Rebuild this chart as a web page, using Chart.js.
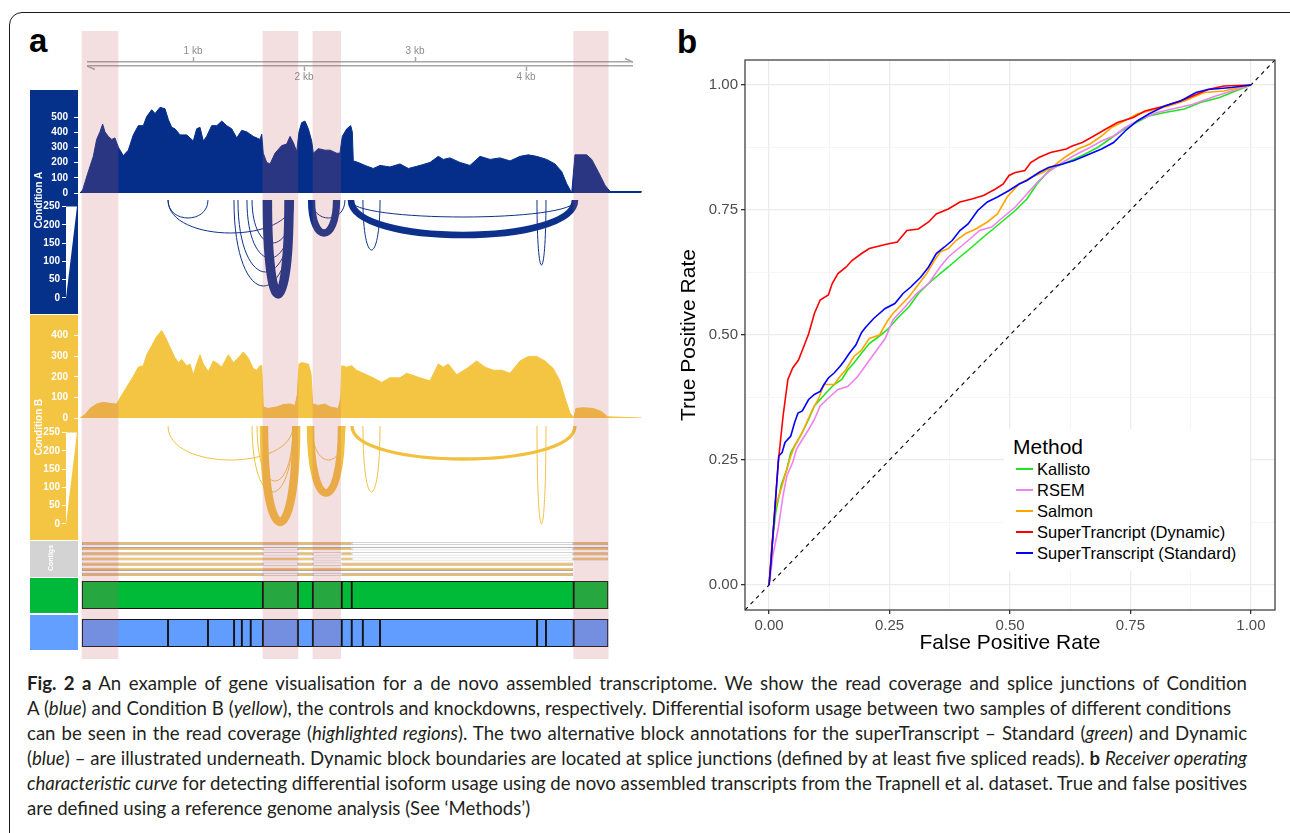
<!DOCTYPE html>
<html>
<head>
<meta charset="utf-8">
<title>Fig. 2</title>
<script src="https://cdn.jsdelivr.net/npm/chart.js@4.4.1/dist/chart.umd.min.js"></script>
<style>
  html, body { margin: 0; padding: 0; background: #fff; }
  body { width: 1290px; height: 833px; position: relative; overflow: hidden; font-family: "Liberation Sans", Arial, sans-serif; }
  canvas { position: absolute; }
  .frame { position: absolute; left: 9px; top: 12px; width: 1300px; height: 900px; border: 1.6px solid #1b1b1b; border-radius: 13px 13px 0 0; box-sizing: border-box; }
  .letter { position: absolute; font-weight: bold; font-size: 33px; line-height: 1; color: #000; }
  .box { position: absolute; left: 30px; width: 48px; }
  .vtxt { position: absolute; color: #fff; font-weight: bold; white-space: nowrap; transform: translate(-50%, -50%) rotate(-90deg); }
  #legend { position: absolute; left: 1004px; top: 429px; width: 246px; height: 142px; background: #fff; z-index: 5; }
  #legend .ttl { position: absolute; left: 9px; top: 5px; font-size: 21px; line-height: 26px; color: #000; }
  #legend .item { position: absolute; left: 0; height: 20px; line-height: 20px; font-size: 16.5px; color: #000; white-space: nowrap; }
  #legend .key { position: absolute; left: 12px; top: 9px; width: 17px; height: 2px; }
  #legend .txt { position: absolute; left: 33px; top: 0; }
  .caption { position: absolute; left: 27px; top: 671px; font-family: Lato, "Open Sans", sans-serif; font-size: 18.6px; line-height: 25px; color: #231f20; }
  .caption .ln { height: 25px; white-space: nowrap; }
  .caption .ln span.w { display: inline-block; white-space: nowrap; }
</style>
</head>
<body>
<div class="frame"></div>
<div class="letter" style="left:29px; top:24px;">a</div>
<div class="letter" style="left:677px; top:25px;">b</div>

<!-- track label columns -->
<div class="box" style="top:90px; height:224px; background:#06318b;"></div>
<div class="box" style="top:315px; height:225px; background:#f4c542;"></div>
<div class="box" style="top:541px; height:36px; background:#d3d3d3;"></div>
<div class="box" style="top:578px; height:35px; background:#00b93a;"></div>
<div class="box" style="top:615px; height:35px; background:#629fff;"></div>

<canvas id="scaleBar"></canvas>
<canvas id="covA"></canvas>
<canvas id="juncA"></canvas>
<canvas id="covB"></canvas>
<canvas id="juncB"></canvas>
<canvas id="contigs"></canvas>
<canvas id="blocksStd"></canvas>
<canvas id="blocksDyn"></canvas>
<canvas id="highlights"></canvas>
<canvas id="roc"></canvas>

<div class="vtxt" style="left:37.5px; top:200px; font-size:10px; z-index:6;">Condition A</div>
<div class="vtxt" style="left:37.5px; top:427px; font-size:10px; z-index:6;">Condition B</div>
<div class="vtxt" style="left:50px; top:558px; font-size:7px; z-index:6;">Contigs</div>

<div id="legend"><div class="ttl">Method</div></div>

<div class="caption">
  <div class="ln"><span class="w" data-w="1220"><b>Fig. 2 a</b> An example of gene visualisation for a de novo assembled transcriptome. We show the read coverage and splice junctions of Condition</span></div>
  <div class="ln"><span class="w" data-w="1204">A (<i>blue</i>) and Condition B (<i>yellow</i>), the controls and knockdowns, respectively. Differential isoform usage between two samples of different conditions</span></div>
  <div class="ln"><span class="w" data-w="1220">can be seen in the read coverage (<i>highlighted regions</i>). The two alternative block annotations for the superTranscript – Standard (<i>green</i>) and Dynamic</span></div>
  <div class="ln"><span class="w" data-w="1220">(<i>blue</i>) – are illustrated underneath. Dynamic block boundaries are located at splice junctions (defined by at least five spliced reads). <b>b</b> <i>Receiver operating</i></span></div>
  <div class="ln"><span class="w" data-w="1220"><i>characteristic curve</i> for detecting differential isoform usage using de novo assembled transcripts from the Trapnell et al. dataset. True and false positives</span></div>
  <div class="ln"><span class="w">are defined using a reference genome analysis (See ‘Methods’)</span></div>
</div>

<script>
// ---------- panel b : ROC data (false positive rate, true positive rate) ----------
const rocKallisto = [[0,0],[0.006,0.079],[0.014,0.146],[0.025,0.199],[0.037,0.232],[0.045,0.265],[0.057,0.285],[0.069,0.305],[0.082,0.331],[0.094,0.358],[0.106,0.371],[0.118,0.384],[0.135,0.401],[0.151,0.411],[0.163,0.430],[0.176,0.444],[0.192,0.464],[0.208,0.483],[0.225,0.495],[0.245,0.510],[0.266,0.533],[0.290,0.556],[0.310,0.583],[0.331,0.603],[0.355,0.623],[0.372,0.636],[0.396,0.656],[0.421,0.676],[0.445,0.696],[0.470,0.716],[0.486,0.729],[0.511,0.749],[0.535,0.772],[0.556,0.802],[0.584,0.832],[0.617,0.845],[0.650,0.859],[0.682,0.875],[0.707,0.892],[0.731,0.908],[0.756,0.922],[0.788,0.938],[0.821,0.945],[0.862,0.952],[0.895,0.965],[0.935,0.975],[0.968,0.988],[1,1]];
const rocRsem = [[0,0],[0.008,0.060],[0.019,0.113],[0.029,0.179],[0.037,0.219],[0.049,0.245],[0.057,0.272],[0.069,0.291],[0.082,0.311],[0.094,0.331],[0.106,0.358],[0.123,0.374],[0.143,0.391],[0.163,0.397],[0.184,0.417],[0.204,0.444],[0.225,0.472],[0.241,0.493],[0.257,0.530],[0.282,0.556],[0.306,0.583],[0.331,0.603],[0.355,0.636],[0.372,0.656],[0.388,0.669],[0.413,0.689],[0.437,0.709],[0.462,0.716],[0.486,0.736],[0.511,0.756],[0.535,0.782],[0.560,0.809],[0.584,0.829],[0.609,0.845],[0.633,0.859],[0.666,0.875],[0.690,0.888],[0.715,0.898],[0.739,0.915],[0.772,0.932],[0.805,0.945],[0.837,0.952],[0.878,0.961],[0.927,0.978],[1,1]];
const rocSalmon = [[0,0],[0.006,0.086],[0.014,0.159],[0.025,0.192],[0.033,0.219],[0.045,0.258],[0.053,0.278],[0.065,0.298],[0.078,0.325],[0.090,0.351],[0.102,0.371],[0.114,0.401],[0.135,0.401],[0.147,0.417],[0.159,0.430],[0.176,0.457],[0.192,0.470],[0.208,0.493],[0.229,0.500],[0.245,0.527],[0.257,0.543],[0.274,0.560],[0.290,0.576],[0.306,0.596],[0.327,0.623],[0.343,0.649],[0.355,0.666],[0.372,0.673],[0.388,0.689],[0.408,0.703],[0.429,0.712],[0.453,0.726],[0.474,0.742],[0.494,0.776],[0.519,0.802],[0.543,0.815],[0.568,0.825],[0.592,0.839],[0.613,0.855],[0.641,0.872],[0.666,0.882],[0.690,0.898],[0.711,0.915],[0.731,0.925],[0.764,0.942],[0.788,0.948],[0.829,0.958],[0.862,0.968],[0.903,0.985],[0.944,0.988],[1,1]];
const rocDynamic = [[0,0],[0.008,0.099],[0.019,0.245],[0.029,0.338],[0.039,0.411],[0.049,0.434],[0.061,0.450],[0.072,0.477],[0.082,0.502],[0.094,0.543],[0.106,0.570],[0.123,0.580],[0.131,0.603],[0.143,0.623],[0.160,0.636],[0.172,0.649],[0.192,0.663],[0.208,0.673],[0.241,0.681],[0.266,0.686],[0.286,0.709],[0.310,0.712],[0.331,0.726],[0.347,0.742],[0.372,0.752],[0.396,0.766],[0.421,0.772],[0.445,0.779],[0.470,0.792],[0.486,0.802],[0.498,0.819],[0.511,0.825],[0.531,0.829],[0.543,0.845],[0.560,0.855],[0.584,0.865],[0.617,0.872],[0.629,0.878],[0.650,0.885],[0.674,0.898],[0.699,0.912],[0.723,0.925],[0.756,0.935],[0.780,0.948],[0.821,0.958],[0.862,0.971],[0.911,0.991],[0.944,0.998],[1,1]];
const rocStandard = [[0,0],[0.004,0.046],[0.014,0.179],[0.020,0.258],[0.027,0.265],[0.033,0.285],[0.045,0.298],[0.053,0.325],[0.060,0.344],[0.069,0.348],[0.082,0.371],[0.094,0.381],[0.106,0.387],[0.114,0.401],[0.123,0.414],[0.135,0.424],[0.147,0.437],[0.155,0.447],[0.167,0.464],[0.180,0.480],[0.192,0.505],[0.200,0.515],[0.217,0.533],[0.241,0.553],[0.261,0.563],[0.278,0.583],[0.294,0.596],[0.315,0.616],[0.331,0.636],[0.347,0.663],[0.364,0.676],[0.380,0.689],[0.396,0.709],[0.413,0.722],[0.433,0.749],[0.453,0.766],[0.474,0.776],[0.498,0.789],[0.519,0.802],[0.535,0.809],[0.560,0.825],[0.580,0.835],[0.609,0.842],[0.633,0.849],[0.658,0.859],[0.690,0.872],[0.715,0.885],[0.739,0.908],[0.764,0.928],[0.788,0.942],[0.821,0.958],[0.854,0.968],[0.886,0.985],[0.911,0.991],[0.960,0.995],[1,1]];
const methodNames = ['Kallisto', 'RSEM', 'Salmon', 'SuperTrancript (Dynamic)', 'SuperTranscript (Standard)'];
const methodColors = ['#1ee61e', '#ee82ee', '#ffa500', '#ff0000', '#0000ff'];
const rocTicks = [0, 0.25, 0.5, 0.75, 1];
const rocMinorTicks = [0.125, 0.375, 0.625, 0.875];
const rocLimits = [-0.05, 1.05];
const chanceLine = [[-0.05, -0.05], [1.05, 1.05]];

// ---------- panel a : genomic tracks (positions in bp) ----------
const kbTicksTop = [1000, 3000];
const kbTicksBottom = [2000, 4000];

const covPosA = [-18,6,48,102,132,162,186,207,237,268,297,327,372,417,462,507,552,583,628,658,703,748,778,808,838,883,943,1003,1033,1063,1093,1123,1168,1214,1259,1304,1349,1394,1439,1484,1543,1604,1619,1633,1664,1694,1739,1799,1844,1874,1904,1934,1955,1979,2009,2039,2069,2084,2129,2189,2234,2295,2324,2345,2385,2421,2435,2444,2489,2550,2624,2685,2775,2865,2940,3045,3135,3210,3255,3315,3405,3495,3586,3676,3766,3856,3946,4021,4096,4186,4261,4322,4367,4412,4441,4486,4547,4592,4651,4712,4757,5042];
const covValA = [0,20,121,242,354,404,455,404,374,354,364,303,247,283,384,445,445,505,550,525,566,556,485,434,424,384,384,344,424,434,344,374,445,445,475,445,424,364,414,404,374,354,388,263,202,192,263,313,323,374,333,273,404,465,475,424,344,263,293,283,283,263,263,374,424,445,404,212,202,182,162,182,172,192,162,182,202,242,222,232,202,182,242,222,232,212,242,252,242,222,192,141,61,0,252,252,252,222,141,51,10,10];
const covPosB = [-18,27,72,132,192,252,313,336,403,462,507,552,583,628,673,718,748,793,838,868,898,943,973,1003,1033,1063,1093,1138,1183,1228,1259,1318,1363,1408,1453,1498,1543,1574,1604,1619,1633,1678,1754,1814,1874,1919,1940,1955,1979,2039,2063,2078,2129,2189,2234,2309,2331,2340,2385,2430,2475,2534,2624,2700,2775,2865,2925,3045,3135,3210,3255,3300,3376,3466,3556,3631,3706,3781,3856,3946,4021,4096,4171,4246,4306,4351,4396,4432,4450,4516,4607,4682,4733,5042];
const covValB = [0,16,46,68,76,71,68,91,150,202,247,254,307,351,396,425,396,344,292,269,284,254,262,210,262,307,262,225,277,262,247,307,269,292,321,292,240,232,254,254,54,46,54,66,68,61,113,262,269,262,217,68,61,68,54,46,98,254,247,254,232,217,195,173,195,195,217,195,180,262,247,262,210,240,277,247,232,232,217,277,299,299,277,240,180,98,24,1,46,50,46,31,6,0];
const covTicksA = [0, 100, 200, 300, 400, 500];
const covTicksB = [0, 100, 200, 300, 400];
const juncTicks = [0, 50, 100, 150, 200, 250];

// splice junctions: start, end, spliced reads, arc dip (0 = top of track, 100 = bottom)
const juncStartA = [775, 775, 1369, 1405, 1486, 1532, 1670, 2068, 2072, 2423, 2414, 2531, 4099];
const juncEndA   = [1135, 1901, 1901, 1901, 1901, 1901, 1865, 2293, 2369, 4441, 4450, 2685, 4180];
const juncReadsA = [14, 14, 14, 14, 14, 14, 215, 165, 14, 150, 14, 12, 12];
const juncDipA   = [18, 33, 86, 72, 58, 43, 94, 33, 18, 35, 17, 50, 65];
const juncStartB = [775, 1532, 1577, 1640, 2059, 2072, 2432, 2531, 4099];
const juncEndB   = [1901, 1901, 1901, 1930, 2338, 2369, 4441, 2685, 4180];
const juncReadsB = [14, 14, 14, 190, 170, 14, 75, 12, 12];
const juncDipB   = [34, 66, 55, 96, 67, 34, 33, 66, 98];

// assembled contigs: [row, start, end]
const contigRows = ['1', '2', '3', '4', '5', '6', '7'];
const contigExons = [
  [0, 0, 2430], [0, 4425, 4740],
  [1, 0, 1630], [1, 1945, 2430], [1, 4425, 4740],
  [2, 0, 1630], [2, 1945, 2080], [2, 2340, 2430], [2, 4425, 4740],
  [3, 0, 2080], [3, 2340, 2430], [3, 4425, 4740],
  [4, 0, 1630], [4, 1945, 2080], [4, 2340, 4425],
  [5, 0, 4425],
  [6, 0, 1630], [6, 1945, 2080], [6, 2340, 4425]
];
const contigGaps = [
  [0, 2430, 4425],
  [1, 1630, 1945], [1, 2430, 4425],
  [2, 1630, 1945], [2, 2080, 2340], [2, 2430, 4425],
  [3, 2080, 2340], [3, 2430, 4425],
  [4, 1630, 1945], [4, 2080, 2340],
  [6, 1630, 1945], [6, 2080, 2340]
];
const standardBounds = [0, 1630, 1945, 2080, 2340, 2430, 4430, 4740];
const dynamicBounds = [0, 775, 1135, 1370, 1440, 1520, 1630, 1945, 2080, 2340, 2430, 2530, 2685, 4100, 4180, 4430, 4740];
const highlightRegions = [[0, 325], [1630, 1945], [2080, 2330], [4430, 4740]];

// ---------- setup ----------
Chart.defaults.animation = false;
Chart.defaults.events = [];
Chart.defaults.font.family = '"Liberation Sans", Arial, sans-serif';
Chart.defaults.plugins.legend.display = false;
Chart.defaults.plugins.tooltip.enabled = false;

// pixel position of 0 bp and pixels per bp in panel a
const BP0_PX = 82, PX_PER_BP = 0.111;
function bpRange(leftPx, rightPx) {
  return { min: (leftPx - BP0_PX) / PX_PER_BP, max: (rightPx - BP0_PX) / PX_PER_BP };
}
function canvasAt(id, left, top, width, height, z) {
  const c = document.getElementById(id);
  c.width = width; c.height = height;
  c.style.left = left + 'px'; c.style.top = top + 'px';
  c.style.width = width + 'px'; c.style.height = height + 'px';
  if (z) c.style.zIndex = z;
  return c;
}
const pairs = b => b.slice(0, -1).map((s, i) => [s, b[i + 1]]);

// --- scale bar ---
const scaleBarHooks = {
  id: 'scaleBarHooks',
  afterDraw(chart) {
    const { ctx, chartArea: a } = chart;
    ctx.save();
    ctx.strokeStyle = '#a6a6a6'; ctx.lineWidth = 1.5;
    ctx.beginPath();
    ctx.moveTo(a.left, a.bottom); ctx.lineTo(a.left + 8, a.bottom + 3.5);
    ctx.moveTo(a.right, a.top); ctx.lineTo(a.right - 8, a.top - 3.5);
    ctx.stroke();
    ctx.restore();
  }
};
const kbAxis = (pos, list) => ({
  type: 'linear', position: pos, ...bpRange(87, 633),
  afterBuildTicks: s => { s.ticks = list.map(v => ({ value: v })); },
  afterFit: s => { s.height = 22; },
  ticks: { color: '#8c8c8c', font: { size: 10 }, padding: 0, autoSkip: false, maxRotation: 0, callback: v => (v / 1000) + ' kb' },
  grid: { drawOnChartArea: false, tickLength: 5, tickColor: '#a6a6a6', tickWidth: 1.5 },
  border: { color: '#a6a6a6', width: 1.5 }
});
new Chart(canvasAt('scaleBar', 87, 40, 546, 48), {
  type: 'line',
  data: { datasets: [{ data: [], xAxisID: 'x', yAxisID: 'y' }] },
  options: {
    responsive: false,
    scales: { x: kbAxis('top', kbTicksTop), x2: kbAxis('bottom', kbTicksBottom), y: { display: false } }
  },
  plugins: [scaleBarHooks]
});

// --- coverage tracks ---
function coverageChart(id, chartTop, chartBottom, pos, val, yMax, ticks, color) {
  const c = canvasAt(id, 30, chartTop - 8, 612, chartBottom - chartTop + 16);
  return new Chart(c, {
    type: 'line',
    data: { datasets: [{ data: pos.map((p, i) => ({ x: p, y: val[i] })), fill: 'origin', backgroundColor: color, borderColor: color, borderWidth: 1, pointRadius: 0, tension: 0 }] },
    options: {
      responsive: false,
      layout: { padding: { top: 8, bottom: 8 } },
      scales: {
        x: { type: 'linear', display: false, ...bpRange(78, 642) },
        y: {
          min: 0, max: yMax,
          afterFit: s => { s.width = 48; },
          afterBuildTicks: s => { s.ticks = ticks.map(v => ({ value: v })); },
          ticks: { color: '#fff', font: { size: 10, weight: 'bold' }, padding: 6 },
          grid: { drawOnChartArea: false, tickLength: 4, tickColor: '#fff' },
          border: { color: '#fff', width: 1 }
        }
      }
    }
  });
}
coverageChart('covA', 100, 197, covPosA, covValA, 588, covTicksA, '#042e8a');
coverageChart('covB', 323, 422, covPosB, covValB, 442, covTicksB, '#f4c542');

// --- splice junction arcs ---
const WEDGE_MAX = 250, WEDGE_PX = 11;
const junctionArcs = {
  id: 'junctionArcs',
  afterDatasetsDraw(chart, args, opts) {
    const { ctx, chartArea: a, scales: { x, y, yd } } = chart;
    const top = yd.getPixelForValue(0);
    ctx.save();
    // thickness legend wedge
    ctx.fillStyle = '#fff';
    ctx.beginPath();
    ctx.moveTo(a.left, y.getPixelForValue(0));
    ctx.lineTo(a.left, y.getPixelForValue(WEDGE_MAX));
    ctx.lineTo(a.left + WEDGE_PX, y.getPixelForValue(WEDGE_MAX));
    ctx.closePath(); ctx.fill();
    ctx.strokeStyle = opts.color;
    chart.data.datasets[0].data.forEach(j => {
      const x1 = x.getPixelForValue(j.x), x2 = x.getPixelForValue(j.end);
      const yb = yd.getPixelForValue(j.dip);
      const cy = top + (yb - top) * 4 / 3;
      ctx.lineWidth = Math.max(1, j.reads / WEDGE_MAX * WEDGE_PX);
      ctx.beginPath();
      ctx.moveTo(x1, top);
      ctx.bezierCurveTo(x1, cy, x2, cy, x2, top);
      ctx.stroke();
    });
    ctx.restore();
  }
};
function junctionChart(id, chartTop, starts, ends, reads, dips, color) {
  const c = canvasAt(id, 30, chartTop - 8, 612, 116);
  return new Chart(c, {
    type: 'scatter',
    data: { datasets: [{ data: starts.map((s, i) => ({ x: s, y: 0, end: ends[i], reads: reads[i], dip: dips[i] })), pointRadius: 0 }] },
    options: {
      responsive: false,
      layout: { padding: { top: 8, bottom: 8 } },
      plugins: { junctionArcs: { color } },
      scales: {
        x: { type: 'linear', display: false, ...bpRange(66, 642) },
        y: {
          min: -5.5, max: 268,
          afterFit: s => { s.width = 36; },
          afterBuildTicks: s => { s.ticks = juncTicks.map(v => ({ value: v })); },
          ticks: { color: '#fff', font: { size: 10, weight: 'bold' }, padding: 2 },
          grid: { drawOnChartArea: false, tickLength: 4, tickColor: '#fff' },
          border: { display: false }
        },
        yd: { display: false, min: 0, max: 100, reverse: true }
      }
    },
    plugins: [junctionArcs]
  });
}
junctionChart('juncA', 200, juncStartA, juncEndA, juncReadsA, juncDipA, '#0d318a');
junctionChart('juncB', 426, juncStartB, juncEndB, juncReadsB, juncDipB, '#f2c040');

// --- contigs ---
new Chart(canvasAt('contigs', 78, 541, 564, 36), {
  type: 'bar',
  data: {
    labels: contigRows,
    datasets: [
      { data: contigExons.map(([r, s, e]) => ({ x: [s, e], y: contigRows[r] })), backgroundColor: '#f5bb55', borderColor: '#a9a9a9', borderWidth: 0.8, borderSkipped: false, grouped: false },
      { data: contigGaps.map(([r, s, e]) => ({ x: [s, e], y: contigRows[r] })), backgroundColor: '#ffffff', borderColor: '#b4b4b4', borderWidth: 0.8, borderSkipped: false, grouped: false }
    ]
  },
  options: {
    responsive: false, indexAxis: 'y',
    datasets: { bar: { barPercentage: 0.62, categoryPercentage: 1 } },
    scales: { x: { type: 'linear', display: false, ...bpRange(78, 642) }, y: { display: false } }
  }
});

// --- superTranscript block annotations ---
function blockChart(id, top, label, bounds, color) {
  return new Chart(canvasAt(id, 78, top, 564, 28), {
    type: 'bar',
    data: {
      labels: [label],
      datasets: [{ data: pairs(bounds).map(([s, e]) => ({ x: [s, e], y: label })), backgroundColor: color, borderColor: '#141414', borderWidth: 1.3, borderSkipped: false, barPercentage: 1, categoryPercentage: 1 }]
    },
    options: { responsive: false, indexAxis: 'y', scales: { x: { type: 'linear', display: false, ...bpRange(78, 642) }, y: { display: false } } }
  });
}
blockChart('blocksStd', 581, 'Standard', standardBounds, '#00bb38');
blockChart('blocksDyn', 619, 'Dynamic', dynamicBounds, '#619cff');

// --- highlighted regions over all tracks ---
new Chart(canvasAt('highlights', 78, 31, 564, 628, 4), {
  type: 'bar',
  data: {
    labels: ['hl'],
    datasets: [{ data: highlightRegions.map(([s, e]) => ({ x: [s, e], y: 'hl' })), backgroundColor: 'rgba(195,90,100,0.2)', borderWidth: 0, barPercentage: 1, categoryPercentage: 1 }]
  },
  options: { responsive: false, indexAxis: 'y', scales: { x: { type: 'linear', display: false, ...bpRange(78, 642) }, y: { display: false } } }
});

// ---------- panel b : ROC chart ----------
const panelBorder = {
  id: 'panelBorder',
  afterDraw(chart) {
    const { ctx, chartArea: a } = chart;
    ctx.save();
    ctx.strokeStyle = '#333'; ctx.lineWidth = 1.2;
    ctx.strokeRect(a.left, a.top, a.right - a.left, a.bottom - a.top);
    ctx.restore();
  }
};
const allRocTicks = rocTicks.concat(rocMinorTicks).sort((a, b) => a - b);
const isMajor = v => rocTicks.some(t => Math.abs(t - v) < 1e-9);
const rocAxis = (title, fit, titlePad) => ({
  type: 'linear', min: rocLimits[0], max: rocLimits[1],
  afterBuildTicks: s => { s.ticks = allRocTicks.map(v => ({ value: v })); },
  afterFit: fit,
  ticks: { color: '#4d4d4d', font: { size: 15 }, padding: 3, autoSkip: false, maxRotation: 0, callback: v => isMajor(v) ? v.toFixed(2) : '' },
  grid: {
    color: c => isMajor(c.tick.value) ? '#ebebeb' : '#f4f4f4',
    lineWidth: c => isMajor(c.tick.value) ? 1.3 : 0.9,
    tickColor: c => isMajor(c.tick.value) ? '#333' : 'rgba(0,0,0,0)',
    tickLength: 4
  },
  border: { display: false },
  title: { display: true, text: title, color: '#000', font: { size: 21 }, padding: titlePad }
});
const rocSeries = [rocStandard, rocDynamic, rocSalmon, rocRsem, rocKallisto];
const rocSeriesIdx = [4, 3, 2, 1, 0];
new Chart(canvasAt('roc', 670, 20, 620, 640), {
  type: 'line',
  data: {
    datasets: rocSeries.map((s, k) => ({
      label: methodNames[rocSeriesIdx[k]],
      data: s.map(([x, y]) => ({ x, y })),
      borderColor: methodColors[rocSeriesIdx[k]], borderWidth: 1.6, pointRadius: 0, tension: 0, fill: false
    })).concat([{ label: 'chance', data: chanceLine.map(([x, y]) => ({ x, y })), borderColor: '#000', borderWidth: 1.1, borderDash: [4, 4], pointRadius: 0 }])
  },
  options: {
    responsive: false,
    layout: { padding: { top: 40, right: 15, bottom: 0, left: 0 } },
    scales: {
      x: rocAxis('False Positive Rate', s => { s.height = 50; }, { top: 0, bottom: 4 }),
      y: rocAxis('True Positive Rate', s => { s.width = 75; }, { top: 7, bottom: 0 })
    }
  },
  plugins: [panelBorder]
});

// legend
const legend = document.getElementById('legend');
methodNames.forEach((name, i) => {
  const it = document.createElement('div');
  it.className = 'item';
  it.style.top = (30 + i * 21) + 'px';
  it.style.width = '246px';
  it.innerHTML = `<div class="key" style="background:${methodColors[i]}"></div><div class="txt">${name}</div>`;
  legend.appendChild(it);
});

// caption: justify each line to its measured width
function fitCaption() {
  document.querySelectorAll('.caption span.w').forEach(el => {
    const target = +el.dataset.w;
    if (!target) return;
    el.style.wordSpacing = '0px';
    const spaces = (el.textContent.match(/ /g) || []).length;
    const natural = el.getBoundingClientRect().width;
    el.style.wordSpacing = ((target - natural) / spaces) + 'px';
  });
}
fitCaption();
if (document.fonts && document.fonts.ready) document.fonts.ready.then(fitCaption);
</script>
</body>
</html>
